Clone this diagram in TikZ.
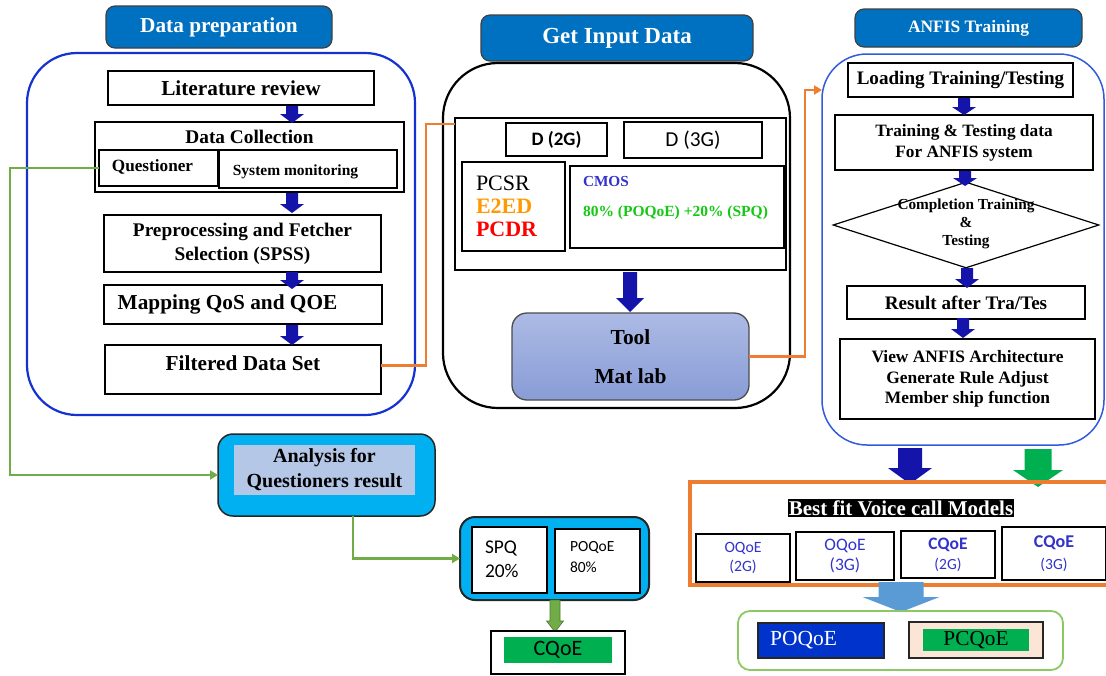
\documentclass[tikz,border=0pt]{standalone}
\usepackage{fontspec}
\setmainfont{Liberation Serif}
\newfontfamily\carlito{Carlito}
\usetikzlibrary{arrows.meta,shapes.geometric}
\newcommand\fsz[2]{\fontsize{#1}{#2}\selectfont}
% x, ytop, ybot, shaft half width, head half width, head length, style
\newcommand\blkdown[7]{\fill[#7] ({#1-#4},#2) -- ({#1+#4},#2) -- ({#1+#4},{#3-#6}) -- ({#1+#5},{#3-#6}) -- (#1,#3) -- ({#1-#5},{#3-#6}) -- ({#1-#4},{#3-#6}) -- cycle;}
\definecolor{hdrblue}{RGB}{0,112,192}
\definecolor{prepblue}{RGB}{20,50,210}
\definecolor{arrblue}{RGB}{20,20,170}
\definecolor{gconn}{RGB}{112,173,71}
\definecolor{oconn}{RGB}{237,125,49}
\definecolor{anfisblue}{RGB}{50,90,220}
\definecolor{cyanfill}{RGB}{0,176,240}
\definecolor{lightbg}{RGB}{180,199,231}
\definecolor{toolA}{RGB}{172,186,228}
\definecolor{toolB}{RGB}{136,156,214}
\definecolor{e2ed}{RGB}{255,153,0}
\definecolor{pcdr}{RGB}{255,0,0}
\definecolor{cmosblue}{RGB}{51,51,204}
\definecolor{pctgreen}{RGB}{20,200,20}
\definecolor{modblue}{RGB}{51,51,204}
\definecolor{gfill}{RGB}{0,176,80}
\definecolor{lbarrow}{RGB}{91,155,213}
\definecolor{poqblue}{RGB}{0,51,204}
\definecolor{peach}{RGB}{251,229,214}
\definecolor{outgreen}{RGB}{140,200,100}
\tikzset{
  box/.style={draw=black, line width=1.3pt, fill=white, inner sep=0pt, outer sep=0pt},
  hdr/.style={draw=black!75, line width=1.2pt, fill=hdrblue, rounded corners=9pt, text=white, inner sep=0pt, outer sep=0pt},
  txt/.style={inner sep=0pt, outer sep=0pt, align=center},
  bigbox/.style={inner sep=0pt, outer sep=0pt},
  gline/.style={draw=gconn, line width=2.5pt},
  oline/.style={draw=oconn, line width=2.5pt},
  gtip/.style={-{Triangle[length=8pt,width=9pt]}},
}
\begin{document}
\begin{tikzpicture}[x=1pt,y=-1pt]
\fill[white] (0,0) rectangle (1106,675);
\useasboundingbox (0,0) rectangle (1106,675);

% ---------------- Data preparation ----------------
\node[hdr, minimum width=226pt, minimum height=42pt, font=\bfseries\fsz{21.3}{24}] (hprep) at (219,27) {Data preparation};
\node[bigbox, draw=prepblue, line width=2.2pt, rounded corners=50pt, minimum width=388pt, minimum height=362pt] (prep) at (221,234) {};

\node[box, minimum width=266pt, minimum height=34pt, font=\bfseries\fsz{21.3}{24}] (litrev) at (241,88) {Literature review};
\node[box, minimum width=309pt, minimum height=70pt] (datacoll) at (249.5,157) {};
\node[txt, font=\bfseries\fsz{19.3}{22}] (dctxt) at (249.5,137) {Data Collection};
\node[box, minimum width=119pt, minimum height=36pt] (quest) at (158.5,168) {};
\node[txt, font=\bfseries\fsz{17.2}{20}] (questtxt) at (152.5,167) {Questioner};
\node[box, minimum width=178pt, minimum height=38pt] (sysmon) at (308,169) {};
\node[txt, font=\bfseries\fsz{15.5}{18}] (sysmontxt) at (295.5,172) {System monitoring};
\node[box, minimum width=277pt, minimum height=57pt, align=center, font=\bfseries\fsz{19.3}{24}] (preproc) at (242.5,243.5) {Preprocessing and Fetcher\\Selection (SPSS)};
\node[box, minimum width=278pt, minimum height=39pt] (mapping) at (243,304.5) {};
\node[txt, font=\bfseries\fsz{21.3}{24}] (maptxt) at (227.5,304) {Mapping QoS and QOE};
\node[box, minimum width=276pt, minimum height=49pt] (filtered) at (243,369.5) {};
\node[txt, font=\bfseries\fsz{21.3}{24}] (filtxt) at (243,363) {Filtered Data Set};

\blkdown{292}{106}{123}{6}{12}{9}{arrblue}
\blkdown{292}{193}{213}{6}{12}{9}{arrblue}
\blkdown{292}{272}{289}{6}{12}{9}{arrblue}
\blkdown{292}{325}{345}{6}{12}{9}{arrblue}

% ---------------- Analysis ----------------
\node[bigbox, draw=black!85, line width=1.5pt, fill=cyanfill, rounded corners=15pt, minimum width=217pt, minimum height=82pt] (analysis) at (326.5,475) {};
\node[txt, fill=lightbg, minimum width=181pt, minimum height=50pt, font=\bfseries\fsz{20}{25}] (anatxt) at (324.5,470) {Analysis for\\Questioners result};

\node[bigbox, draw=black!85, line width=2pt, fill=cyanfill, rounded corners=15pt, minimum width=189pt, minimum height=83pt] (spqouter) at (554.5,558.5) {};
\node[box, minimum width=75pt, minimum height=66pt] (spq) at (509.5,560) {};
\node[txt, align=left, anchor=west, font=\carlito\fsz{19.4}{24}] (spqtxt) at (485,559) {SPQ\\20\%};
\node[box, minimum width=85pt, minimum height=64pt] (poq80) at (597.5,561) {};
\node[txt, align=left, anchor=west, font=\carlito\fsz{15.5}{21}] (poq80txt) at (570,557) {POQoE\\80\%};

\blkdown{555}{600}{632}{5}{8.5}{11}{fill=gconn, draw=gconn!70!black, line width=0.6pt}
\node[box, minimum width=134pt, minimum height=43pt] (cqoebox) at (558,652.5) {};
\node[txt, fill=gfill, minimum width=108pt, minimum height=26pt, font=\carlito\fsz{22}{24}] (cqoe) at (558,650) {CQoE};

% ---------------- Get Input Data ----------------
\node[hdr, minimum width=272pt, minimum height=46pt, font=\bfseries\fsz{23}{26}] (hget) at (617,38) {Get Input Data};
\node[bigbox, draw=black, line width=2.2pt, rounded corners=55pt, minimum width=347pt, minimum height=345pt] (getbox) at (616.5,235.5) {};
\node[box, minimum width=331pt, minimum height=152pt] (inner) at (620.5,194) {};
\node[box, minimum width=101pt, minimum height=33pt, font=\carlito\bfseries\fsz{19}{22}] (d2g) at (556.5,139.5) {D (2G)};
\node[box, minimum width=138pt, minimum height=36pt, font=\carlito\fsz{21.3}{24}] (d3g) at (693,140) {D (3G)};
\node[box, minimum width=103pt, minimum height=89pt] (pcsr) at (513.5,206.5) {};
\node[txt, align=left, anchor=west, font=\fsz{22}{23}] (pcsrtxt) at (476,206) {PCSR\\{\bfseries\color{e2ed}E2ED}\\{\bfseries\color{pcdr}PCDR}};
\node[box, minimum width=214pt, minimum height=82pt] (cmos) at (677,207) {};
\node[txt, anchor=west, text=cmosblue, font=\bfseries\fsz{15.3}{18}] (cmostxt) at (583,182) {CMOS};
\node[txt, anchor=west, text=pctgreen, font=\bfseries\fsz{15.5}{18}] (pcttxt) at (583,213) {80\% (POQoE) +20\% (SPQ)};

\blkdown{630}{272}{312}{7}{14}{14}{arrblue}
\node[bigbox, draw=black!70, line width=1.3pt, rounded corners=15pt, top color=toolA, bottom color=toolB, minimum width=237pt, minimum height=87pt, align=center, font=\bfseries\fsz{21.4}{39}] (tool) at (630.5,356.5) {Tool\\Mat lab};

% ---------------- ANFIS Training ----------------
\node[hdr, minimum width=227pt, minimum height=38pt, font=\bfseries\fsz{17.4}{20}] (hanfis) at (968.5,28) {ANFIS Training};
\node[bigbox, draw=anfisblue, line width=1.5pt, rounded corners=45pt, minimum width=282pt, minimum height=391pt] (anfis) at (963,249.5) {};
\node[box, minimum width=225pt, minimum height=34pt, font=\bfseries\fsz{19.1}{22}] (loading) at (960.5,80) {Loading Training/Testing};
\node[box, minimum width=258pt, minimum height=55pt, align=center, font=\bfseries\fsz{17.3}{21}] (trdata) at (964,142.5) {Training \& Testing data\\For ANFIS system};
\node[diamond, draw=black, line width=1.2pt, fill=white, minimum width=266pt, minimum height=86pt, inner sep=0pt] (dia) at (966,225) {};
\node[txt, font=\bfseries\fsz{15.3}{18}] (diatxt) at (966,224) {Completion Training\\\&\\Testing};
\node[box, minimum width=238pt, minimum height=33pt, font=\bfseries\fsz{19.1}{22}] (result) at (966,302.5) {Result after Tra/Tes};
\node[box, minimum width=255pt, minimum height=80pt, align=center, font=\bfseries\fsz{17.4}{20.5}] (view) at (967.5,379) {View ANFIS Architecture\\Generate Rule Adjust\\Member ship function};

\blkdown{964}{98}{115}{6}{12}{8}{arrblue}
\blkdown{965}{171}{186}{6}{12}{8}{arrblue}
\blkdown{967}{268}{288}{6}{12}{9}{arrblue}
\blkdown{963}{318}{338}{6}{12}{9}{arrblue}

% ---------------- Best fit models ----------------
\blkdown{910}{448}{484}{12}{22}{16}{arrblue}
\blkdown{1038}{449}{487}{13.5}{25}{17}{gfill}
\node[bigbox, minimum width=416pt, minimum height=103pt] (bestfit) at (898,533.5) {};
\draw[draw=oconn, line width=4pt] (bestfit.north east) -- (bestfit.north west) -- (bestfit.south west) -- (bestfit.south east);
\node[fill=black, text=white, inner sep=1pt, font=\bfseries\fsz{21}{24}] (bftxt) at (901,508) {Best fit Voice call Models};
\node[box, minimum width=94pt, minimum height=48pt, align=center, text=modblue, font=\carlito\fsz{15.7}{19}] (m1) at (743,558) {OQoE\\(2G)};
\node[box, minimum width=98pt, minimum height=48pt, align=center, text=modblue, font=\carlito\fsz{17.5}{20}] (m2) at (845,556) {OQoE\\(3G)};
\node[box, minimum width=94pt, minimum height=47pt, align=center, text=modblue, font=\carlito\fsz{17.5}{20}] (m3) at (948,554.5) {{\bfseries CQoE}\\{\fsz{15.5}{20}(2G)}};
\node[box, minimum width=104pt, minimum height=53pt, align=center, text=modblue, font=\carlito\fsz{18}{22}] (m4) at (1054,553.5) {{\bfseries CQoE}\\{\fsz{15.5}{22}(3G)}};

\blkdown{901}{582}{612}{22.5}{38.5}{15}{lbarrow}
\node[bigbox, draw=outgreen, line width=1.8pt, rounded corners=12pt, minimum width=325pt, minimum height=59pt] (outbox) at (900.5,640.5) {};
\node[box, fill=poqblue, draw=black!85, minimum width=126pt, minimum height=35pt] (poqoe) at (821,640.5) {};
\node[txt, text=white, font=\fsz{21.5}{24}] (poqoetxt) at (803.5,640) {POQoE};
\node[box, fill=peach, draw=black!85, minimum width=134pt, minimum height=36pt] (pcqoe) at (976,640) {};
\node[txt, fill=gfill, minimum width=106pt, minimum height=22pt, font=\fsz{21.3}{24}] (pcqoetxt) at (976,640) {PCQoE};

% ---------------- Connectors ----------------
\draw[gline, gtip] (quest.west) -- ++(-89,0) |- (analysis.west);
\draw[gline, gtip] (analysis.south) ++(26.5,0) |- (spqouter.west);
\draw[oline] ([yshift=4pt]filtered.east) -- ++(45,0) |- ([yshift=-6pt]inner.north west);
\draw[oline, -{Triangle[length=8pt,width=9pt]}] (tool.east) -- ++(56,0) |- ([yshift=-36pt]anfis.north west);
\end{tikzpicture}
\end{document}
